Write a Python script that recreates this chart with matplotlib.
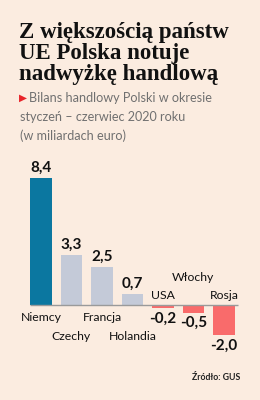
import matplotlib
matplotlib.use("Agg")
import matplotlib.pyplot as plt

# dane: bilans handlowy Polski, styczeń-czerwiec 2020 (mld euro)
kraje = ["Niemcy", "Czechy", "Francja", "Holandia", "USA", "Włochy", "Rosja"]
bilans = [8.4, 3.3, 2.5, 0.7, -0.2, -0.5, -2.0]
etykiety = ["8,4", "3,3", "2,5", "0,7", "-0,2", "-0,5", "-2,0"]

# styl
tlo = "#fbece0"
kolory = ["#0b77a0", "#c4cad8", "#c4cad8", "#c4cad8", "#f96b6b", "#f96b6b", "#f96b6b"]
# pozycja podpisu kraju (w jednostkach osi Y)
poz_nazw = [-0.86, -2.1, -0.86, -2.1, 0.66, 1.79, 0.66]

plt.rcParams["font.family"] = ["Lato", "DejaVu Sans"]

fig = plt.figure(figsize=(2.6, 4.0), dpi=100, facecolor=tlo)

# ========== TYTUŁ I OPIS ==========
fig.text(19 / 260, 1 - 22 / 400, "Z większością państw\nUE Polska notuje\nnadwyżkę handlową",
         family="Liberation Serif", fontweight="bold", fontsize=16.5,
         va="top", ha="left", linespacing=1.0, color="#111111")
fig.text(19 / 260, 1 - 98 / 400, "▶", family="DejaVu Sans", fontsize=7.5,
         color="#e8242a", va="center", ha="left")
fig.text(29 / 260, 1 - 98 / 400, "Bilans handlowy Polski w okresie",
         fontsize=9.1, color="#707070", va="center", ha="left")
fig.text(20 / 260, 1 - 117 / 400, "styczeń – czerwiec 2020 roku",
         fontsize=9.1, color="#707070", va="center", ha="left")
fig.text(20 / 260, 1 - 136 / 400, "(w miliardach euro)",
         fontsize=9.1, color="#707070", va="center", ha="left")

# ========== WYKRES ==========
ax = fig.add_axes([25.75 / 260, 49.7 / 400, 213.5 / 260, 181.2 / 400])
ax.set_facecolor(tlo)
x = list(range(len(kraje)))
ax.bar(x, bilans, width=0.72, color=kolory, zorder=2)
ax.hlines(0, -0.36, 6.46, color="#9a9a9a", linewidth=1.0, zorder=3)

for i in x:
    v = bilans[i]
    ax.annotate(etykiety[i], (i, v), xytext=(0, 2.5 if v > 0 else -2.5),
                textcoords="offset points", ha="center",
                va="bottom" if v > 0 else "top",
                fontsize=11, fontweight="bold", color="#111111")
    ax.text(i, poz_nazw[i], kraje[i], ha="center", va="center",
            fontsize=8.8, color="#111111")

ax.set_xlim(-0.5, 6.5)
ax.set_ylim(-3, 9)
ax.axis("off")

fig.text(240 / 260, 1 - 377 / 400, "Źródło: GUS", fontsize=6.3,
         fontweight="bold", color="#222222", ha="right", va="center")

fig.savefig("out.png", dpi=100, facecolor=tlo)
